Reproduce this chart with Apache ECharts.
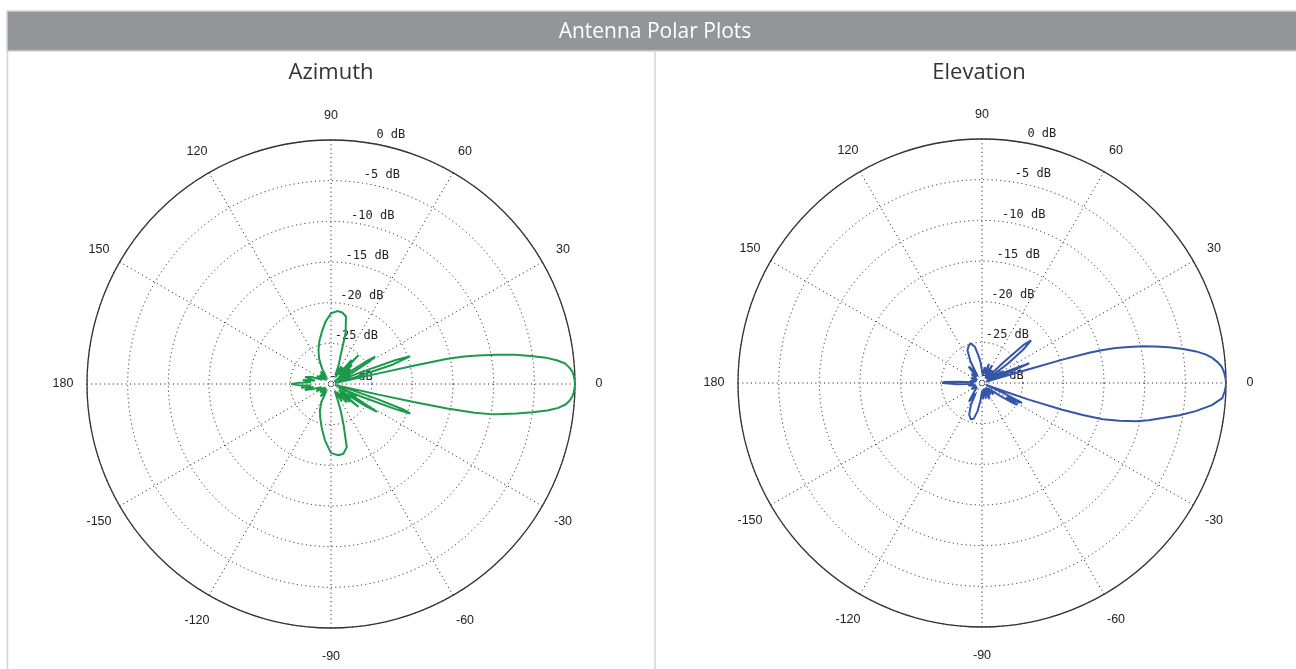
<!DOCTYPE html>
<html>
<head>
<meta charset="utf-8">
<script src="https://cdn.jsdelivr.net/npm/echarts@6/dist/echarts.min.js"></script>
<style>
html,body{margin:0;padding:0;background:#fff;}
#chart{width:1296px;height:669px;}
</style>
</head>
<body>
<div id="chart"></div>
<script>
// ---- data (angle in degrees, gain in dB) ----
const azimuthAngles = [-180,-178,-176,-173,-170,-167,-165,-160,-154,-148,-142,-136,-130,-124,-118,-113,-108,-102,-96,-90,-84,-80,-76,-73,-70,-67,-62,-58,-54,-50,-47,-44,-41.5,-39.7,-38,-36,-34,-32.5,-31.2,-30,-28,-26,-24,-22.5,-21.3,-20.4,-19.5,-18,-16,-14.5,-13,-12.6,-12.3,-11.9,-11.3,-10.6,-10,-9,-8,-7,-6,-5,-4,-3,-2,-1,0,1,2,3,4,5,6,7,8,9,10,11,11.7,12.2,12.4,12.6,13,14,15.5,17.5,19.3,20.3,21.5,23,24.5,26,28,30.5,31.8,32.8,34,36,38,40,42,44,46.5,47.8,49.5,51,54,57,60,64,68,71,74,77.5,81,85,90,95,100,105,110,115,120,125,130,135,140,145,150,155,160,165,168,172,175,178,180];
const azimuthDb = [-25.1,-26,-27.5,-26.3,-27.8,-26.7,-27.5,-28.8,-28,-29.2,-28.3,-29.2,-28,-29,-27.5,-26.5,-25.7,-24.5,-23,-21.5,-21.2,-21.3,-22,-24.7,-26.5,-28,-29,-27.5,-28.8,-27,-28.5,-26.8,-28,-25.6,-28.8,-27,-28.5,-25,-23.4,-25.5,-27.5,-26.5,-29,-26,-21.5,-19.6,-20.5,-24,-27.5,-29.5,-28.5,-24,-19.6,-15.4,-12,-9.7,-8.7,-6.9,-5,-3.2,-1.9,-1.05,-0.6,-0.3,-0.15,-0.05,0,-0.05,-0.15,-0.3,-0.65,-1.1,-2.1,-3.4,-5.2,-7.1,-9.3,-11.6,-13.3,-15.5,-19.6,-24,-28.5,-29.5,-27,-22,-19.7,-21.5,-26,-29,-27.5,-29,-27,-24.5,-23.6,-25,-28.5,-29.5,-27,-28.8,-26.5,-28.3,-25.1,-27.5,-26.1,-28.5,-27.5,-29,-27.5,-28.8,-27.5,-26.5,-23.5,-21.5,-21.1,-21,-21.3,-22.3,-23.5,-24.5,-25.5,-26.5,-27.8,-29,-28,-29.3,-28.2,-29,-28,-28.8,-27.5,-26.7,-28,-26.5,-27.5,-26,-25.1];

const elevationAngles = [-180,-178.5,-177,-175,-170,-160,-150,-140,-130,-125,-121,-117,-112,-107,-103,-99,-95,-90,-85,-80,-75,-70,-65,-60,-55,-50,-45,-40,-36,-33,-31.9,-30,-28,-26.4,-25,-23.5,-21.5,-20.3,-19.6,-18.4,-17.6,-16.7,-15.4,-14,-12.6,-11,-9.3,-7.5,-5.5,-3.6,-2,-1,0,1,2,3,4,5,6.2,7.3,8.4,9.6,10.8,11.9,12.9,13.8,14.7,15.3,15.8,16.2,16.4,16.8,18,20,22.7,24.5,25.5,27,29,31,34,37,39,41,42.5,44,46,50,55,60,65,70,75,80,85,90,94,97,101,106,110,114,118,122,126,129,133,140,147,155,163,170,175,177,178.5,180];
const elevationDb = [-25.1,-25.3,-27,-29,-28.3,-29.2,-28.5,-29.2,-28.3,-27.2,-28.5,-27,-25.8,-25.3,-25.5,-26.5,-27.8,-29,-28,-29.2,-28,-29.3,-27.8,-29,-28.2,-29.3,-28,-29,-27.5,-25.5,-24.9,-26.5,-25,-24.5,-27,-29.5,-28.5,-27,-23.9,-19.6,-17,-14.5,-12.5,-10.5,-9,-7.4,-5.4,-3.5,-1.6,-0.4,-0.15,-0.04,0,-0.04,-0.15,-0.28,-0.5,-0.9,-1.5,-2.3,-3.4,-4.9,-6.6,-8.2,-9.8,-11.4,-13,-14.6,-16.3,-19.7,-24,-28,-29.5,-27.5,-23.7,-23.8,-27,-29,-27,-28.5,-29.2,-26,-23.5,-22,-23,-26.5,-29.3,-28,-29.3,-27.5,-29,-27.5,-28.8,-28,-29,-28.5,-27.5,-26.7,-25.5,-24.9,-25.2,-25.6,-27,-29,-27.8,-27.4,-29,-28.3,-29.3,-28.5,-29.3,-28.5,-29,-27,-25.3,-25.1];

const dbTicks = {min: -30, max: 0, step: 5};
const angleTicks = {min: -180, max: 180, step: 30};
const panelTitles = ['Azimuth', 'Elevation'];
const headerTitle = 'Antenna Polar Plots';

// ---- layout ----
const R = 244;
const centers = [[331, 384], [982, 383]];
const colors = ['#1b9a4b', '#3556a8'];
const gridDots = {type: [1, 3.3], color: '#111', width: 1};
const labelFont = {color: '#222', fontSize: 12.5, fontFamily: 'Liberation Sans'};

function pairs(angles, db) { return angles.map((a, i) => [db[i], a]); }

function angleLabel(v) {
  const t = v === -180 ? '180' : String(v);
  const a = Math.abs(v);
  let cls = (a === 0 || a === 180) ? 'h' : (a === 90 ? 'v' : ((a === 60 || a === 120) ? 'd6' : 'd3'));
  if (v < 0 && v !== -180) cls += 'b';
  return '{' + cls + '|' + t + '}';
}

const polar = [], angleAxis = [], radiusAxis = [];
centers.forEach((c, k) => {
  // main polar
  polar.push({center: c, radius: R});
  angleAxis.push({
    polarIndex: 2 * k, type: 'value', min: angleTicks.min, max: angleTicks.max, interval: angleTicks.step,
    startAngle: 180, clockwise: false,
    axisLine: {show: true, lineStyle: {color: '#333', width: 1.3}},
    axisTick: {show: false},
    splitLine: {show: true, lineStyle: gridDots},
    axisLabel: Object.assign({
      show: true, margin: 6,
      formatter: angleLabel,
      rich: {
        h: Object.assign({width: 36, align: 'center', lineHeight: 14}, labelFont),
        v: Object.assign({align: 'center', lineHeight: 36}, labelFont),
        vb: Object.assign({align: 'center', lineHeight: 46}, labelFont),
        d6: Object.assign({width: 18, align: 'center', lineHeight: 31}, labelFont),
        d6b: Object.assign({width: 18, align: 'center', lineHeight: 41}, labelFont),
        d3: Object.assign({width: 31, align: 'center', lineHeight: 18}, labelFont),
        d3b: Object.assign({width: 31, align: 'center', lineHeight: 25}, labelFont)
      }
    }, labelFont)
  });
  radiusAxis.push({
    polarIndex: 2 * k, type: 'value', min: dbTicks.min, max: dbTicks.max, interval: dbTicks.step,
    axisLine: {show: false}, axisTick: {show: false}, axisLabel: {show: false},
    splitLine: {show: true, lineStyle: gridDots}
  });
  // label polar (dB labels along a slanted line)
  polar.push({center: c, radius: R});
  angleAxis.push({polarIndex: 2 * k + 1, type: 'value', min: 0, max: 360, startAngle: 82.3, clockwise: false, show: false});
  radiusAxis.push({
    polarIndex: 2 * k + 1, type: 'value', min: dbTicks.min, max: dbTicks.max, interval: dbTicks.step,
    axisLine: {show: false}, axisTick: {show: false}, splitLine: {show: false},
    axisLabel: {
      show: true, margin: -42, align: 'right', verticalAlign: 'bottom', padding: [0, 0, 7, 0],
      color: '#222', fontSize: 12, fontFamily: 'DejaVu Sans Mono',
      showMinLabel: true, showMaxLabel: true,
      formatter: v => v + ' dB'
    }
  });
});

const option = {
  animation: false,
  backgroundColor: '#fff',
  polar, angleAxis, radiusAxis,
  graphic: [
    {type: 'rect', z: 0, shape: {x: 7, y: 11, width: 1295, height: 40}, style: {fill: '#939598', stroke: '#d3d3d3', lineWidth: 1.5}},
    {type: 'line', shape: {x1: 7.5, y1: 51, x2: 7.5, y2: 669}, style: {stroke: '#d3d3d3', lineWidth: 1.5}},
    {type: 'line', shape: {x1: 655, y1: 51, x2: 655, y2: 669}, style: {stroke: '#d3d3d3', lineWidth: 1.5}},
    {type: 'text', x: 655, y: 32, style: {text: headerTitle, align: 'center', verticalAlign: 'middle', fill: '#fff', font: '21px "Open Sans"'}},
    {type: 'text', x: 331, y: 73, style: {text: panelTitles[0], align: 'center', verticalAlign: 'middle', fill: '#333', font: '22px "Open Sans"'}},
    {type: 'text', x: 979, y: 73, style: {text: panelTitles[1], align: 'center', verticalAlign: 'middle', fill: '#333', font: '22px "Open Sans"'}}
  ],
  series: [
    {type: 'line', coordinateSystem: 'polar', polarIndex: 0, data: pairs(azimuthAngles, azimuthDb),
     symbol: 'none', lineStyle: {color: colors[0], width: 2}, z: 5},
    {type: 'line', coordinateSystem: 'polar', polarIndex: 2, data: pairs(elevationAngles, elevationDb),
     symbol: 'none', lineStyle: {color: colors[1], width: 2}, z: 5}
  ]
};

const chart = echarts.init(document.getElementById('chart'));
chart.setOption(option);
</script>
</body>
</html>
